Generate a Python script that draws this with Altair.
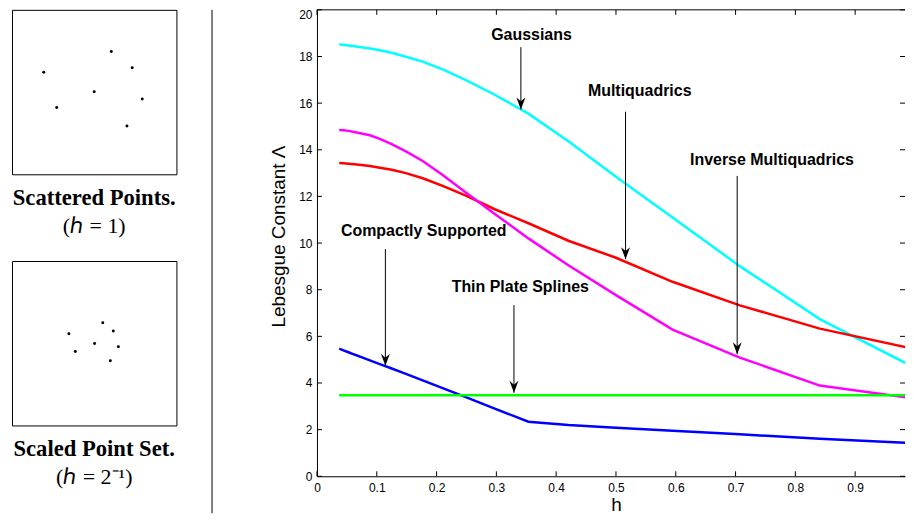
import altair as alt
import pandas as pd

# ---------------- data ----------------
h = [0.0372, 0.0442, 0.0526, 0.0625, 0.0743, 0.0884, 0.1051, 0.125, 0.1487, 0.1768,
     0.2102, 0.25, 0.2973, 0.3536, 0.4204, 0.5, 0.5946, 0.7071, 0.8409, 1.0]

gaussians = [18.51, 18.50, 18.47, 18.44, 18.40, 18.34, 18.27, 18.16, 17.99, 17.78,
             17.45, 16.98, 16.36, 15.55, 14.37, 12.84, 11.10, 9.01, 6.74, 4.65]
multiquadrics = [13.43, 13.42, 13.40, 13.38, 13.35, 13.30, 13.23, 13.14, 13.00, 12.78,
                 12.45, 12.02, 11.45, 10.85, 10.10, 9.37, 8.34, 7.33, 6.33, 5.45]
inverse_mq = [14.85, 14.84, 14.81, 14.76, 14.70, 14.62, 14.47, 14.24, 13.93, 13.52,
              12.92, 12.15, 11.25, 10.20, 9.05, 7.77, 6.29, 5.09, 3.89, 3.33]
compact = [5.47, 5.40, 5.32, 5.22, 5.11, 4.97, 4.81, 4.62, 4.39, 4.11,
           3.78, 3.38, 2.90, 2.34, 2.20, 2.08, 1.95, 1.80, 1.61, 1.42]
thin_plate = [3.47, 3.47, 3.47, 3.47, 3.47, 3.47, 3.47, 3.47, 3.47, 3.47,
              3.47, 3.47, 3.47, 3.47, 3.47, 3.47, 3.47, 3.47, 3.47, 3.47]

series_names = ["Gaussians", "Multiquadrics", "Inverse Multiquadrics",
                "Compactly Supported", "Thin Plate Splines"]
series_colors = ["#00FFFF", "#FF0000", "#FF00FF", "#0000FF", "#00FF00"]

# annotations (label position, arrow shaft top and arrow tip)
ann_labels = ["Gaussians", "Multiquadrics", "Inverse Multiquadrics",
              "Compactly Supported", "Thin Plate Splines"]
ann_text_x = [0.3588, 0.5397, 0.7608, 0.1785, 0.3400]
ann_text_y = [18.93, 16.50, 13.54, 10.52, 8.12]
arrow_x = [0.3410, 0.5160, 0.7027, 0.1144, 0.3294]
arrow_top = [18.40, 15.63, 12.88, 9.74, 7.34]
arrow_tip = [15.73, 9.31, 5.23, 4.74, 3.58]

x_ticks = [0, 0.1, 0.2, 0.3, 0.4, 0.5, 0.6, 0.7, 0.8, 0.9]
y_ticks = [0, 2, 4, 6, 8, 10, 12, 14, 16, 18, 20]

# scattered point sets (unit square coordinates)
scat_x = [0.193, 0.604, 0.731, 0.500, 0.272, 0.792, 0.699]
scat_y = [0.620, 0.747, 0.648, 0.502, 0.406, 0.458, 0.293]
scaled_x = [0.346, 0.552, 0.616, 0.502, 0.385, 0.647, 0.598]
scaled_y = [0.558, 0.625, 0.574, 0.499, 0.450, 0.479, 0.394]

# ---------------- tables ----------------
rows = []
for name, vals in zip(series_names, [gaussians, multiquadrics, inverse_mq, compact, thin_plate]):
    for hv, v in zip(h, vals):
        rows.append({"h": hv, "lam": v, "series": name})
df = pd.DataFrame(rows)

ann = pd.DataFrame({"label": ann_labels, "tx": ann_text_x, "ty": ann_text_y,
                    "ax": arrow_x, "atop": arrow_top, "atip": arrow_tip})
xt = pd.DataFrame({"t": x_ticks})
yt = pd.DataFrame({"t": y_ticks})
one = pd.DataFrame({"d": [0]})

SANS = "Liberation Sans"
SERIF = "Liberation Serif"
W, H = 590, 468
TICK = 5

xs = alt.Scale(domain=[0, 0.98333], nice=False, zero=False)
ys = alt.Scale(domain=[0, 20], nice=False, zero=False)

X_AXIS = alt.Axis(orient="bottom", title="h", values=x_ticks, format="~g",
                  ticks=False, tickSize=0, labelPadding=6, labelFlush=False,
                  labelOverlap=False, domain=True, domainColor="black",
                  domainWidth=1, labelFont=SANS, labelFontSize=12,
                  labelColor="black", titleFont=SANS, titleFontSize=19,
                  titleFontWeight="normal", titleColor="black",
                  titlePadding=2, titleX=300, grid=False)
Y_AXIS = alt.Axis(orient="left", title="Lebesgue Constant Λ", values=y_ticks,
                  format="d", ticks=False, tickSize=0, labelPadding=5,
                  labelFlush=False, labelOverlap=False, domain=True,
                  labelBaseline={"condition": {"test": "datum.value == 20", "value": "top"},
                                 "value": "middle"},
                  domainColor="black", domainWidth=1, labelFont=SANS,
                  labelFontSize=12, labelColor="black", titleFont=SANS,
                  titleFontSize=19, titleFontWeight="normal",
                  titleColor="black", titlePadding=10, titleY=227, grid=False)


def X(field):
    return alt.X(field, type="quantitative", scale=xs, axis=X_AXIS)


def Y(field):
    return alt.Y(field, type="quantitative", scale=ys, axis=Y_AXIS)


lines = alt.Chart(df).mark_line(strokeWidth=2.5, clip=True).encode(
    x=X("h"), y=Y("lam"),
    color=alt.Color("series:N", scale=alt.Scale(domain=series_names, range=series_colors),
                    legend=None),
)

# inward-pointing ticks on all four sides (MATLAB box style) and the top border
tick_style = dict(color="black", strokeWidth=1)
ticks_bottom = alt.Chart(xt).mark_rule(**tick_style).encode(
    x=X("t"), y=alt.value(H), y2=alt.value(H - TICK))
ticks_top = alt.Chart(xt).mark_rule(**tick_style).encode(
    x=X("t"), y=alt.value(0), y2=alt.value(TICK))
ticks_left = alt.Chart(yt).mark_rule(**tick_style).encode(
    y=Y("t"), x=alt.value(0), x2=alt.value(TICK))
ticks_right = alt.Chart(yt).mark_rule(**tick_style).encode(
    y=Y("t"), x=alt.value(W - TICK), x2=alt.value(W))
top_border = alt.Chart(one).mark_rule(**tick_style).encode(
    x=alt.value(0), x2=alt.value(W), y=alt.value(0))

shafts = alt.Chart(ann).mark_rule(color="black", strokeWidth=1).encode(
    x=X("ax"), y=Y("atop"), y2="atip:Q",
)

heads = alt.Chart(ann).mark_point(
    shape="M0,0L-0.75,-2L0,-1.35L0.75,-2Z", filled=True, size=144,
    color="black", opacity=1, strokeWidth=0,
).encode(x=X("ax"), y=Y("atip"))

texts = alt.Chart(ann).mark_text(
    font=SANS, fontSize=16, fontWeight="bold", color="black",
    align="center", baseline="middle",
).encode(x=X("tx"), y=Y("ty"), text="label:N")

main = alt.layer(
    lines, ticks_bottom, ticks_top, ticks_left, ticks_right, top_border,
    shafts, heads, texts,
).properties(width=W, height=H)


def panel(xv, yv, title, sub):
    d = pd.DataFrame({"x": xv, "y": yv})
    return alt.Chart(
        d,
        title=alt.TitleParams(text=title, subtitle=sub, orient="bottom", anchor="middle",
                              font=SERIF, fontSize=22.7, fontWeight="bold", color="black",
                              subtitleFont=SERIF, subtitleFontSize=22,
                              subtitleColor="black", offset=13, subtitlePadding=6),
    ).mark_circle(size=9, color="black", opacity=1).encode(
        x=alt.X("x:Q", scale=alt.Scale(domain=[0, 1], nice=False), axis=None),
        y=alt.Y("y:Q", scale=alt.Scale(domain=[0, 1], nice=False), axis=None),
    ).properties(width=165, height=165,
                 view=alt.ViewBackground(stroke="black", strokeWidth=1))


left = alt.vconcat(
    panel(scat_x, scat_y, "Scattered Points.", "(ℎ = 1)"),
    panel(scaled_x, scaled_y, "Scaled Point Set.", "(ℎ = 2⁻¹)"),
    spacing=22,
)

divider = alt.Chart(one).mark_rule(color="black", strokeWidth=1).encode(
    x=alt.value(34.7), y=alt.value(0), y2=alt.value(505)
).properties(width=91.4, height=505)

chart = alt.hconcat(left, divider, main, spacing=0).properties(
    padding={"left": 3, "top": 0, "right": 0, "bottom": 0},
    background="white",
).configure_view(stroke="transparent", strokeWidth=0)

chart.save("out.html", embed_options={"renderer": "svg", "actions": False})
